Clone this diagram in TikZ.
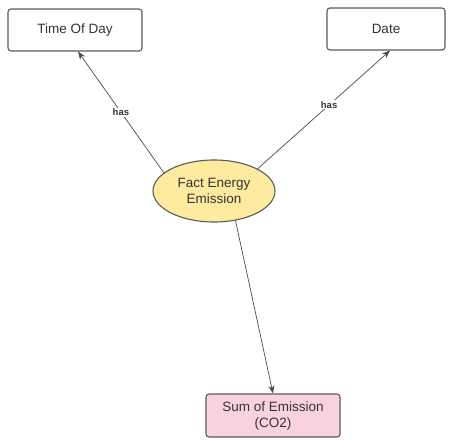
\documentclass[tikz,border=0pt]{standalone}
\usepackage{fontspec}
\setmainfont{Liberation Sans}
\usetikzlibrary{shapes.geometric,arrows.meta}
\definecolor{edgegray}{HTML}{4A4A4A}
\definecolor{txtgray}{HTML}{333333}
\definecolor{boxline}{HTML}{5A5A5A}
\definecolor{yellowfill}{HTML}{FFEBA0}
\definecolor{pinkfill}{HTML}{F9D2DE}
\tikzset{
  entity/.style={draw=boxline, line width=1.1pt, rounded corners=3pt, fill=white, minimum width=134pt, minimum height=42pt, text=txtgray, font=\fontsize{13.5}{16}\selectfont, align=center, inner sep=0pt},
  fact/.style={ellipse, draw=boxline, line width=1.1pt, fill=yellowfill, minimum width=122pt, minimum height=62pt, text=txtgray, font=\fontsize{13.5}{16}\selectfont, align=center, inner sep=0pt},
  measure/.style={entity, fill=pinkfill},
  conn/.style={draw=edgegray, line width=0.7pt, -{Stealth[length=8pt,width=6pt]}},
  lbl/.style={fill=white, inner sep=1pt, text=txtgray, font=\bfseries\fontsize{9.5}{11}\selectfont}
}
\begin{document}
\begin{tikzpicture}[x=1pt,y=-1pt]
\useasboundingbox (0,0) rectangle (454,439);
\node[entity] (t) at (75,30) {Time Of Day};
\node[entity, minimum width=118pt] (d) at (386,29) {Date};
\node[fact] (f) at (214,191) {Fact Energy\\Emission};
\node[measure, minimum height=43pt] (s) at (273,415.5) {Sum of Emission\\(CO2)};
\coordinate (tend) at ([xshift=3pt]t.south);
\coordinate (dend) at ([xshift=4pt]d.south);
\draw[conn] (f.160) -- node[lbl, pos=0.5] (h1) {has} (tend);
\draw[conn] (f.27) -- node[lbl, pos=0.54] (h2) {has} (dend);
\draw[conn] (f.-54) -- (s.north);
\end{tikzpicture}
\end{document}
